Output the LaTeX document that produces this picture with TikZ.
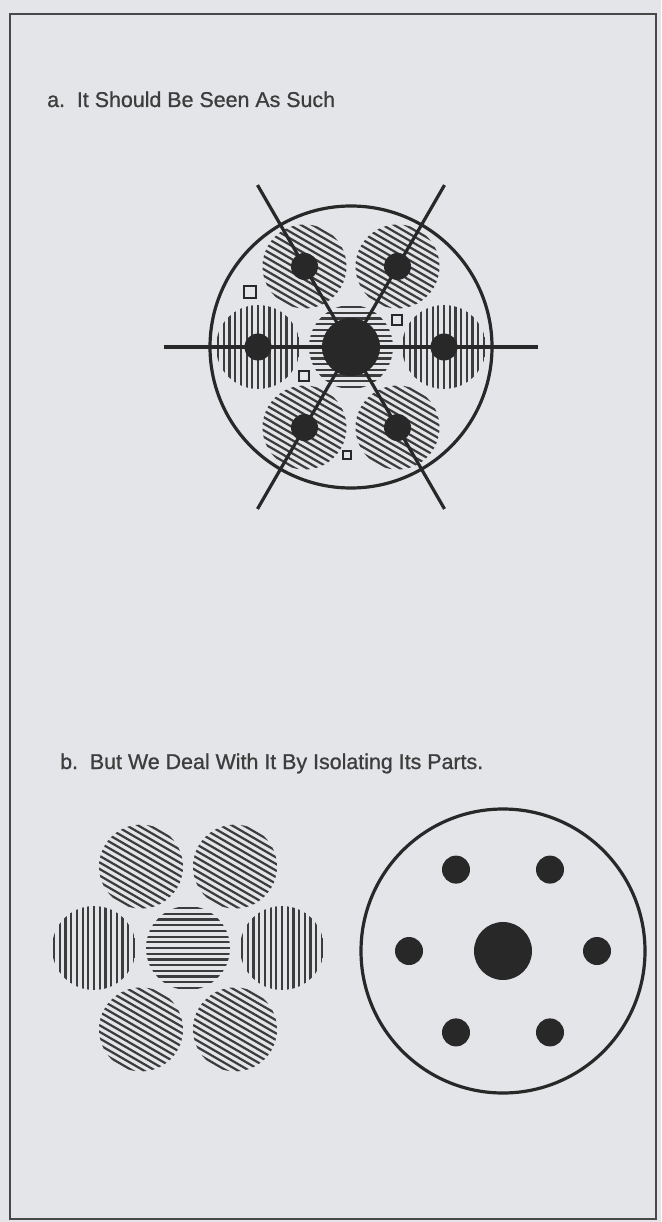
\documentclass[tikz,border=0pt]{standalone}
\usepackage{fontspec}
\usetikzlibrary{calc}
\setmainfont{Liberation Sans}
\newfontfamily\titlefont{Liberation Sans}[FakeBold=0.9]
\definecolor{paper}{RGB}{228,229,232}
\definecolor{ink}{RGB}{40,40,40}
\definecolor{hatchc}{RGB}{60,60,60}
\newcommand\hatchdisk[2]{%
  \begin{scope}
    \clip (#1) circle[radius=42];
    \begin{scope}[shift={(#1)}, rotate=#2]
      \foreach \k in {-8,...,8} \draw[hline] (-50,\k*5.7) -- (50,\k*5.7);
    \end{scope}
  \end{scope}}
\begin{document}
\begin{tikzpicture}[x=1pt,y=-1pt,
  frame/.style={draw=ink!85, line width=1.4pt},
  ring/.style={draw=ink, line width=3.2pt},
  spoke/.style={draw=ink, line width=3.2pt},
  dot/.style={fill=ink},
  hline/.style={draw=hatchc, line width=2.2pt},
  sq/.style={draw=ink, line width=2pt, fill=paper, inner sep=0pt},
  title/.style={font=\titlefont\fontsize{21.4}{26}\selectfont, text=ink!90, anchor=base west, inner sep=0pt}]
\useasboundingbox (0,0) rectangle (661,1222);
\fill[paper] (0,0) rectangle (661,1222);
\draw[frame] (10,14) rectangle (656,1219);

% titles
\node[title] (ta) at (47,107) {a.\ \ It Should Be Seen As Such};
\node[title] (tb) at (60,769) {b.\ \ But We Deal With It By Isolating Its Parts.};

% ---------- part a ----------
\coordinate (ca) at (351,347);
\foreach \a in {0,60,...,300} \path (ca) ++(\a:93) coordinate (sa\a);
\hatchdisk{ca}{0}
\hatchdisk{sa0}{90}
\hatchdisk{sa180}{90}
\foreach \a in {60,120,240,300} {\hatchdisk{sa\a}{-30}}
\foreach \a in {0,60,120} \draw[spoke] ($(ca)+(\a:187)$) -- ($(ca)+(\a+180:187)$);
\fill[dot] (ca) circle[radius=29];
\foreach \a in {0,60,...,300} \fill[dot] (sa\a) circle[radius=13.5];
\draw[ring] (ca) circle[radius=141];
\node[sq, minimum size=12pt] (q1) at (250,292) {};
\node[sq, minimum size=10pt] (q2) at (397,320) {};
\node[sq, minimum size=10pt] (q3) at (304,376) {};
\node[sq, minimum size=8pt] (q4) at (347,455) {};

% ---------- part b left ----------
\coordinate (cb) at (188,948);
\foreach \a in {0,60,...,300} \path (cb) ++(\a:94) coordinate (sb\a);
\hatchdisk{cb}{0}
\hatchdisk{sb0}{90}
\hatchdisk{sb180}{90}
\foreach \a in {60,120,240,300} {\hatchdisk{sb\a}{-30}}

% ---------- part b right ----------
\coordinate (cc) at (503,951);
\draw[ring] (cc) circle[radius=142];
\fill[dot] (cc) circle[radius=29];
\foreach \a in {0,60,...,300} {\path (cc) ++(\a:94) coordinate (sc\a); \fill[dot] (sc\a) circle[radius=14];}
\end{tikzpicture}
\end{document}
